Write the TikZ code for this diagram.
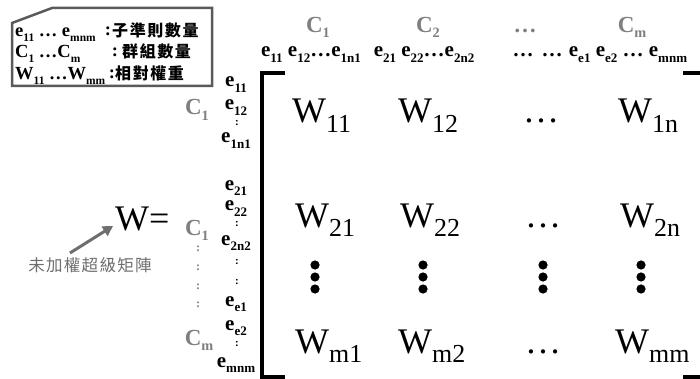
\documentclass[tikz,border=0pt]{standalone}
\usepackage{fontspec}
\setmainfont{Liberation Serif}
\newfontfamily\cjkw[LetterSpace=10]{Noto Sans CJK TC}
\newfontfamily\cjkl[LetterSpace=8]{Noto Sans CJK TC}
\usetikzlibrary{arrows.meta}
\definecolor{lblgray}{HTML}{7F7F7F}
\definecolor{boxgray}{HTML}{5A5A5A}
\definecolor{argray}{HTML}{6E6E6E}
\newcommand\sbs[1]{\raisebox{-0.26em}{\scalebox{0.62}{#1}}}
\newcommand\csub[1]{\raisebox{-0.18em}{\scalebox{0.62}{#1}}}
\newcommand\msub[1]{\raisebox{-0.26em}{\scalebox{0.72}{#1}}}
\tikzset{
  hdrC/.style={font=\bfseries\fontsize{23}{23}\selectfont, text=lblgray, inner sep=0pt, anchor=base},
  elab/.style={font=\bfseries\fontsize{21}{21}\selectfont, inner sep=0pt, anchor=base},
  ecol/.style={font=\bfseries\fontsize{11}{11}\selectfont, inner sep=0pt},
  gcol/.style={font=\bfseries\fontsize{12}{12}\selectfont, text=lblgray, inner sep=0pt},
  went/.style={font=\fontsize{36}{36}\selectfont, inner sep=0pt, anchor=base west},
  mdots/.style={font=\fontsize{36}{36}\selectfont, inner sep=0pt, anchor=base},
  legL/.style={font=\bfseries\fontsize{18.5}{18.5}\selectfont, inner sep=0pt, anchor=base west},
  legC/.style={font=\cjkw\bfseries\fontsize{16}{16}\selectfont, inner sep=0pt, anchor=base west},
  legS/.style={font=\bfseries\fontsize{18.5}{18.5}\selectfont, inner sep=0pt, anchor=base},
  brk/.style={line width=3.5pt},
}
\begin{document}
\begin{tikzpicture}[x=1pt,y=-1pt]
\useasboundingbox (0,0) rectangle (700,379);
% legend box
\draw[boxgray, line width=2.5pt, fill=white] (52,8) -- (212,8) -- (212,86) -- (12,86) -- (12,23) -- cycle;
\node[legL] (l1) at (15,37) {e\sbs{11} … e\sbs{mnm}};
\node[legL] (l2) at (15,58) {C\sbs{1} …C\sbs{m}};
\node[legL] (l3) at (15,80) {W\sbs{11} …W\sbs{mm}};
\node[legS] (c1) at (108,36) {:};
\node[legS] (c2) at (115,57) {:};
\node[legS] (c3) at (112,79) {:};
\node[legC] (t1) at (112,37) {子準則數量};
\node[legC] (t2) at (122,58) {群組數量};
\node[legC] (t3) at (115,80) {相對權重};
% top header
\node[hdrC] (hC1) at (318,33) {C\csub{1}};
\node[hdrC] (hC2) at (428,33) {C\csub{2}};
\node[hdrC] (hCd) at (525,33) {…};
\node[hdrC] (hCm) at (632,33) {C\csub{m}};
\node[elab] (he1) at (311,57) {e\sbs{11} e\sbs{12}…e\sbs{1n1}};
\node[elab] (he2) at (424,57) {e\sbs{21} e\sbs{22}…e\sbs{2n2}};
\node[elab] (hed1) at (523,57) {…};
\node[elab] (hed2) at (552,57) {…};
\node[elab] (hem) at (628,57) {e\sbs{e1} e\sbs{e2} … e\sbs{mnm}};
% left column e labels
\node[elab] (v1) at (236,87) {e\sbs{11}};
\node[elab] (v2) at (236,110) {e\sbs{12}};
\node[ecol] (v3) at (237,123) {:};
\node[elab] (v4) at (236,143) {e\sbs{1n1}};
\node[elab] (v5) at (236,190) {e\sbs{21}};
\node[elab] (v6) at (236,211) {e\sbs{22}};
\node[ecol] (v7) at (237,224) {:};
\node[elab] (v8) at (236,245) {e\sbs{2n2}};
\node[ecol] (v9) at (237,262) {:};
\node[ecol] (v10) at (237,282) {:};
\node[elab] (v11) at (236,306) {e\sbs{e1}};
\node[elab] (v12) at (236,330) {e\sbs{e2}};
\node[ecol] (v13) at (237,344) {:};
\node[elab] (v14) at (236,367) {e\sbs{mnm}};
% left gray C labels
\node[hdrC] (lC1) at (197,115) {C\sbs{1}};
\node[hdrC] (lC2) at (197,235) {C\sbs{1}};
\node[gcol] (g1) at (198,249) {:};
\node[gcol] (g2) at (198,268) {:};
\node[gcol] (g3) at (198,287) {:};
\node[gcol] (g4) at (198,305) {:};
\node[hdrC] (lCm) at (199,345) {C\sbs{m}};
% W=
\node[went] (W) at (115,230) {W=};
\node[font=\cjkl\fontsize{16.5}{16.5}\selectfont, text=argray, inner sep=0pt] (lab) at (90,265) {未加權超級矩陣};
\coordinate (arrS) at (70,253);
\coordinate (arrE) at (113,226);
\draw[argray, line width=3pt, -{Triangle[length=10pt,width=11pt]}] (arrS) -- (arrE);
% brackets
\draw[brk] (285,73) -- (262,73) -- (262,377) -- (285,377);
\draw[brk] (683,73) -- (702,73);
\draw[brk] (683,377) -- (702,377);
% matrix entries
\node[went] (w11) at (292,123) {W\msub{11}};
\node[went] (w12) at (398,123) {W\msub{12}};
\node[mdots] (d1) at (541,123) {…};
\node[went] (w1n) at (618,123) {W\msub{1n}};
\node[went] (w21) at (295,227) {W\msub{21}};
\node[went] (w22) at (400,227) {W\msub{22}};
\node[mdots] (d2) at (543,227) {…};
\node[went] (w2n) at (620,227) {W\msub{2n}};
\node[went] (wm1) at (295,353) {W\msub{m1}};
\node[went] (wm2) at (398,353) {W\msub{m2}};
\node[mdots] (dm) at (543,353) {…};
\node[went] (wmm) at (615,353) {W\msub{mm}};
% vertical dots
\foreach \x in {315,423,543,641}{
  \foreach \y in {265,277,289}{ \fill (\x,\y) circle (4.6pt); }
}
\end{tikzpicture}
\end{document}
